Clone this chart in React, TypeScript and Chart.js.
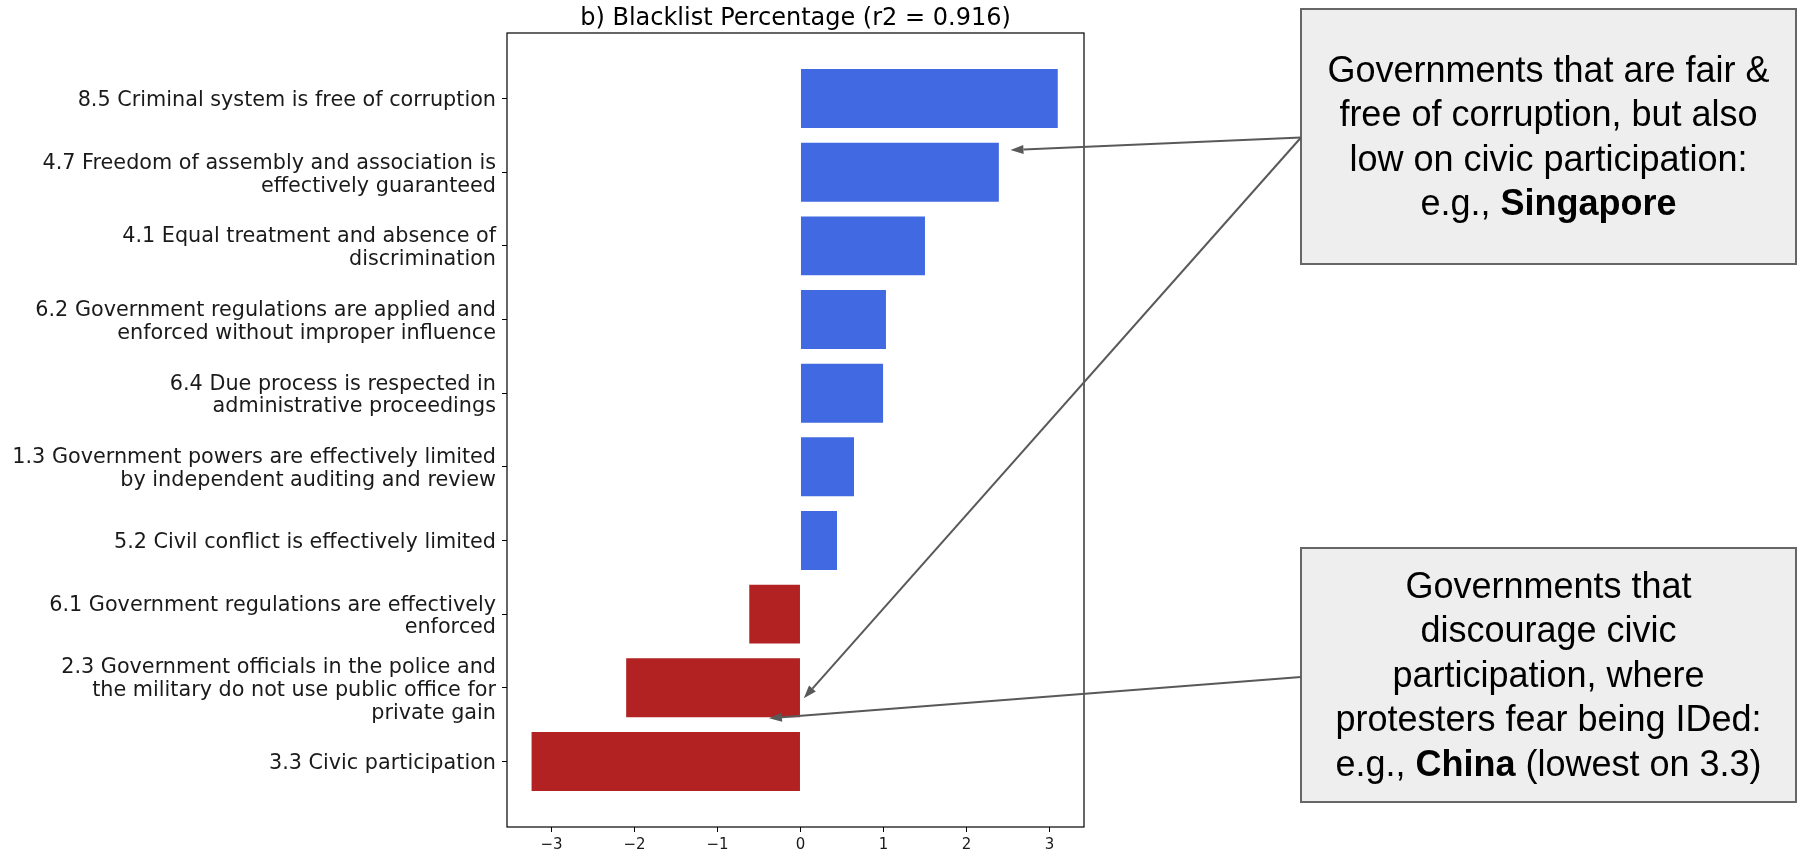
import React, { useEffect, useRef } from "react";
import { Chart, registerables } from "chart.js";

Chart.register(...registerables);

// ---- data (top to bottom as shown) ----
const categories: string[][] = [
  ["8.5 Criminal system is free of corruption"],
  ["4.7 Freedom of assembly and association is", "effectively guaranteed"],
  ["4.1 Equal treatment and absence of", "discrimination"],
  ["6.2 Government regulations are applied and", "enforced without improper influence"],
  ["6.4 Due process is respected in", "administrative proceedings"],
  ["1.3 Government powers are effectively limited", "by independent auditing and review"],
  ["5.2 Civil conflict is effectively limited"],
  ["6.1 Government regulations are effectively", "enforced"],
  ["2.3 Government officials in the police and", "the military do not use public office for", "private gain"],
  ["3.3 Civic participation"],
];
const values: number[] = [3.1, 2.39, 1.5, 1.03, 0.995, 0.645, 0.44, -0.617, -2.1, -3.24];
const xTickValues: number[] = [-3, -2, -1, 0, 1, 2, 3];
const chartTitle = "b) Blacklist Percentage (r2 = 0.916)";

const box1Lines = [
  [{ t: "Governments that are fair &", b: false }],
  [{ t: "free of corruption, but also", b: false }],
  [{ t: "low on civic participation:", b: false }],
  [{ t: "e.g., ", b: false }, { t: "Singapore", b: true }],
];
const box2Lines = [
  [{ t: "Governments that", b: false }],
  [{ t: "discourage civic", b: false }],
  [{ t: "participation, where", b: false }],
  [{ t: "protesters fear being IDed:", b: false }],
  [{ t: "e.g., ", b: false }, { t: "China", b: true }, { t: " (lowest on 3.3)", b: false }],
];
// arrow targets in data coordinates (x value, y position)
const arrow1Target = { x: 2.53, y: 8.3 };
const arrow2Target = { x: 0.04, y: 0.857 };
const arrow3Target = { x: -0.38, y: 0.585 };

const N = categories.length;
const BLUE = "#4169E1";
const RED = "#B22222";

function drawArrow(ctx: CanvasRenderingContext2D, x0: number, y0: number, x1: number, y1: number) {
  const ang = Math.atan2(y1 - y0, x1 - x0);
  const hl = 13, hw = 4.5;
  const bx = x1 - hl * Math.cos(ang), by = y1 - hl * Math.sin(ang);
  ctx.strokeStyle = "#595959";
  ctx.fillStyle = "#595959";
  ctx.lineWidth = 2;
  ctx.beginPath();
  ctx.moveTo(x0, y0);
  ctx.lineTo(bx, by);
  ctx.stroke();
  ctx.beginPath();
  ctx.moveTo(x1, y1);
  ctx.lineTo(bx + hw * Math.sin(ang), by - hw * Math.cos(ang));
  ctx.lineTo(bx - hw * Math.sin(ang), by + hw * Math.cos(ang));
  ctx.closePath();
  ctx.fill();
}

function drawBox(ctx: CanvasRenderingContext2D, x: number, y: number, w: number, h: number, lines: { t: string; b: boolean }[][]) {
  ctx.fillStyle = "#eeeeee";
  ctx.fillRect(x, y, w, h);
  ctx.strokeStyle = "#666666";
  ctx.lineWidth = 2;
  ctx.strokeRect(x, y, w, h);
  const lh = 44.5;
  const cx = x + w / 2;
  const first = y + h / 2 - ((lines.length - 1) * lh) / 2 + 2;
  ctx.fillStyle = "#000";
  ctx.textBaseline = "middle";
  ctx.textAlign = "left";
  lines.forEach((segs, i) => {
    let total = 0;
    const widths = segs.map((s) => {
      ctx.font = `${s.b ? "bold " : ""}36px "Liberation Sans", Arial, sans-serif`;
      const wd = ctx.measureText(s.t).width;
      total += wd;
      return wd;
    });
    let sx = cx - total / 2;
    segs.forEach((s, j) => {
      ctx.font = `${s.b ? "bold " : ""}36px "Liberation Sans", Arial, sans-serif`;
      ctx.fillText(s.t, sx, first + i * lh);
      sx += widths[j];
    });
  });
}

const overlayPlugin = {
  id: "overlay",
  afterDraw(chart: any) {
    const { ctx, chartArea: a, scales } = chart;
    ctx.save();
    // frame
    ctx.strokeStyle = "#000";
    ctx.lineWidth = 1.2;
    ctx.strokeRect(a.left, a.top, a.right - a.left, a.bottom - a.top);
    // title
    ctx.fillStyle = "#000";
    ctx.font = '24px "DejaVu Sans"';
    ctx.textAlign = "center";
    ctx.textBaseline = "middle";
    ctx.fillText(chartTitle, (a.left + a.right) / 2, a.top - 14);
    // boxes
    const b1 = { x: 1301, y: 9, w: 495, h: 255 };
    const b2 = { x: 1301, y: 548, w: 495, h: 254 };
    drawBox(ctx, b1.x, b1.y, b1.w, b1.h, box1Lines);
    drawBox(ctx, b2.x, b2.y, b2.w, b2.h, box2Lines);
    const sx = scales.x, sy = scales.y;
    const s1y = b1.y + b1.h / 2 + 1;
    const s2y = b2.y + b2.h / 2 + 2;
    drawArrow(ctx, b1.x, s1y, sx.getPixelForValue(arrow1Target.x), sy.getPixelForValue(arrow1Target.y));
    drawArrow(ctx, b1.x, s1y, sx.getPixelForValue(arrow2Target.x), sy.getPixelForValue(arrow2Target.y));
    drawArrow(ctx, b2.x, s2y, sx.getPixelForValue(arrow3Target.x), sy.getPixelForValue(arrow3Target.y));
    ctx.restore();
  },
};

export default function App() {
  const ref = useRef<HTMLCanvasElement | null>(null);
  useEffect(() => {
    if (!ref.current) return;
    const data = values.map((v, i) => ({ x: v, y: N - 1 - i }));
    const chart = new Chart(ref.current, {
      type: "bar",
      data: {
        datasets: [
          {
            data: data as any,
            backgroundColor: values.map((v) => (v >= 0 ? BLUE : RED)),
            borderWidth: 0,
            barPercentage: 1,
            categoryPercentage: 0.8,
          },
        ],
      },
      options: {
        indexAxis: "y",
        animation: false,
        responsive: false,
        devicePixelRatio: 1,
        layout: { padding: { left: 0, right: 734, top: 33, bottom: 0 } },
        plugins: { legend: { display: false }, tooltip: { enabled: false }, title: { display: false } },
        scales: {
          x: {
            type: "linear",
            min: -3.536,
            max: 3.416,
            afterBuildTicks: (axis: any) => {
              axis.ticks = xTickValues.map((v) => ({ value: v }));
            },
            afterFit: (axis: any) => {
              axis.height = 24;
            },
            border: { display: false },
            grid: { display: true, drawOnChartArea: false, drawTicks: true, tickLength: 5, color: "#000", tickColor: "#000" },
            ticks: {
              padding: 4,
              color: "#1a1a1a",
              font: { family: "DejaVu Sans", size: 15 },
              maxRotation: 0,
              autoSkip: false,
              callback: (v: any) => (Number(v) < 0 ? "\u2212" + Math.abs(Number(v)) : String(v)),
            },
          },
          y: {
            type: "linear",
            min: -0.89,
            max: 9.89,
            offset: false,
            afterBuildTicks: (axis: any) => {
              axis.ticks = categories.map((_, i) => ({ value: i }));
            },
            afterFit: (axis: any) => {
              axis.width = 507;
            },
            border: { display: false },
            grid: { display: true, offset: false, drawOnChartArea: false, drawTicks: true, tickLength: 5, color: "#000", tickColor: "#000" },
            ticks: {
              padding: 6,
              labelOffset: 2.5,
              color: "#1a1a1a",
              autoSkip: false,
              font: { family: "DejaVu Sans", size: 20.75, lineHeight: 1.1 },
              callback: (v: any) => categories[N - 1 - Number(v)],
            },
          },
        },
      },
      plugins: [overlayPlugin],
    } as any);
    return () => chart.destroy();
  }, []);
  return (
    <div style={{ position: "absolute", left: 0, top: 0, width: 1818, height: 851, background: "#fff" }}>
      <canvas ref={ref} width={1818} height={851} style={{ display: "block" }} />
    </div>
  );
}
